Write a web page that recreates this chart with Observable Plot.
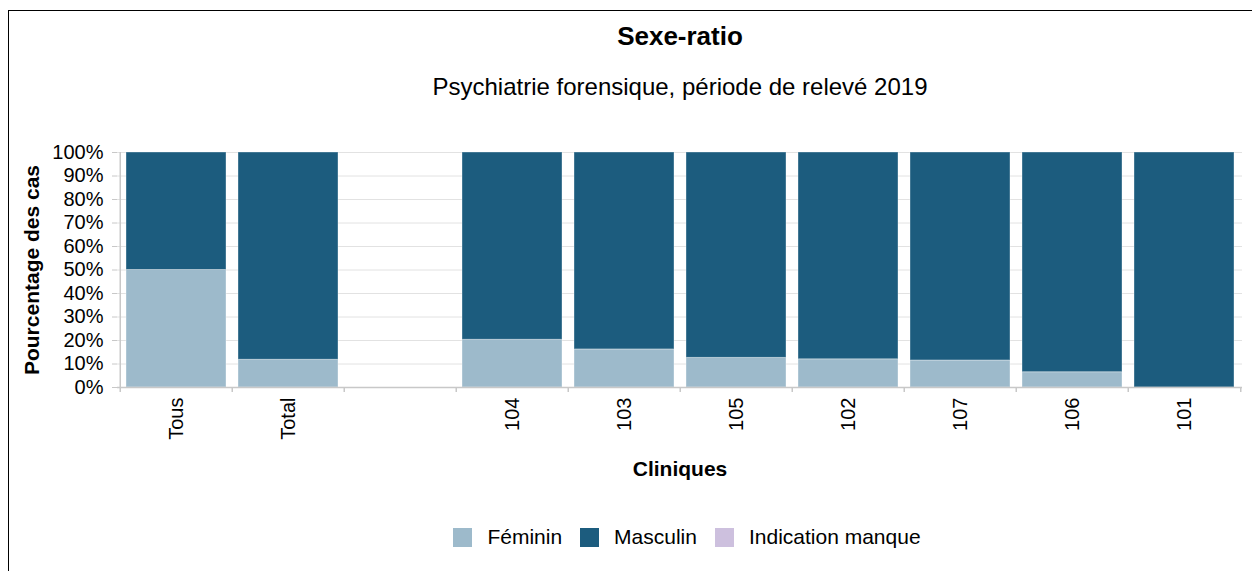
<!DOCTYPE html>
<html><head><meta charset="utf-8">
<script src="https://cdn.jsdelivr.net/npm/d3@7"></script>
<script src="https://cdn.jsdelivr.net/npm/@observablehq/plot@0.6"></script>
<style>
html,body{margin:0;padding:0;background:#fff;}
body{width:1252px;height:571px;overflow:hidden;position:relative;font-family:"Liberation Sans",Arial,sans-serif;color:#000;}
#frame{position:absolute;left:8px;top:10px;width:1400px;height:700px;border-left:1.5px solid #000;border-top:1.5px solid #000;}
#title{position:absolute;left:0;width:1360px;top:20px;height:32px;line-height:32px;text-align:center;font-size:26px;font-weight:bold;}
#subtitle{position:absolute;left:0;width:1360px;top:72px;height:30px;line-height:30px;text-align:center;font-size:24px;}
#chart{position:absolute;left:0;top:120px;}
#legend{position:absolute;left:0;width:1374px;top:522px;height:30px;display:flex;justify-content:center;align-items:center;font-size:21px;}
#legend .item{display:flex;align-items:center;margin:0 9px;}
#legend .sw{width:19px;height:19px;margin-right:15px;}
</style>
</head><body>
<div id="frame"></div>
<div id="title">Sexe-ratio</div>
<div id="subtitle">Psychiatrie forensique, période de relevé 2019</div>
<div id="chart"></div>
<div id="legend"></div>
<script>
const categories = ["Tous", "Total", " ", "104", "103", "105", "102", "107", "106", "101"];
const feminin  = [50, 11.8, null, 20.3, 16.2, 12.6, 12.0, 11.5, 6.5, 0];
const masculin = [50, 88.2, null, 79.7, 83.8, 87.4, 88.0, 88.5, 93.5, 100];
const manque   = [0, 0, null, 0, 0, 0, 0, 0, 0, 0];
const sexes = ["Féminin", "Masculin", "Indication manque"];
const colors = ["#9dbacb", "#1c5c7e", "#cdc0de"];
const yTicks = [0, 10, 20, 30, 40, 50, 60, 70, 80, 90, 100];

const series = [feminin, masculin, manque];
const data = [];
categories.forEach((c, i) => {
  sexes.forEach((s, k) => {
    const v = series[k][i];
    if (v != null && v > 0) data.push({c, sexe: s, v});
  });
});

const W = 1252, H = 390, mL = 117, mR = 10, mT = 32, mB = 123;
const step = (W - mL - mR) / categories.length;

const chart = Plot.plot({
  width: W, height: H,
  marginLeft: mL, marginRight: mR, marginTop: mT, marginBottom: mB,
  style: {fontFamily: '"Liberation Sans", Arial, sans-serif', fontSize: "20px", color: "#000", background: "transparent", overflow: "visible"},
  x: {domain: categories, paddingInner: 0.11, paddingOuter: 0.055, axis: null, label: null},
  y: {domain: [0, 100], axis: null, label: null},
  color: {domain: sexes, range: colors},
  marks: [
    Plot.gridY(yTicks, {stroke: "#e2e2e2", strokeOpacity: 1}),
    Plot.barY(data, {x: "c", y: "v", fill: "sexe", order: sexes, stroke: "#ffffff", strokeOpacity: 0.35, strokeWidth: 1}),
    Plot.ruleY([0], {stroke: "#c8c8c8", strokeWidth: 1.5}),
    Plot.ruleX([categories[0]], {x: d => d, dx: -step / 2, y1: 0, y2: 100, stroke: "#c8c8c8", strokeWidth: 1.5}),
    Plot.ruleX(categories, {x: d => d, dx: -step / 2, y1: 0, y2: -2.1, stroke: "#c8c8c8", strokeWidth: 1.5}),
    Plot.ruleX([categories[categories.length - 1]], {x: d => d, dx: step / 2, y1: 0, y2: -2.1, stroke: "#c8c8c8", strokeWidth: 1.5}),
    Plot.axisY(yTicks, {tickFormat: d => d + "%", tickSize: 5, tickPadding: 9, stroke: "#c8c8c8", fill: "#000", fontSize: 20, label: null}),
    Plot.axisX({tickSize: 0, tickPadding: 10, tickRotate: -90, tickFormat: d => d, fill: "#000", fontSize: 20, label: null}),
    Plot.text(["Pourcentage des cas"], {frameAnchor: "left", dx: -85, rotate: -90, text: d => d, fontWeight: "bold", fontSize: 21, fill: "#000", textAnchor: "middle", lineAnchor: "middle"}),
    Plot.text(["Cliniques"], {frameAnchor: "bottom", dy: 82, text: d => d, fontWeight: "bold", fontSize: 21, fill: "#000", textAnchor: "middle", lineAnchor: "middle"})
  ]
});
document.getElementById("chart").appendChild(chart);

const legend = document.getElementById("legend");
sexes.forEach((s, i) => {
  const item = document.createElement("div");
  item.className = "item";
  const sw = document.createElement("div");
  sw.className = "sw";
  sw.style.background = colors[i];
  const t = document.createElement("span");
  t.textContent = s;
  item.appendChild(sw);
  item.appendChild(t);
  legend.appendChild(item);
});
</script>
</body></html>
